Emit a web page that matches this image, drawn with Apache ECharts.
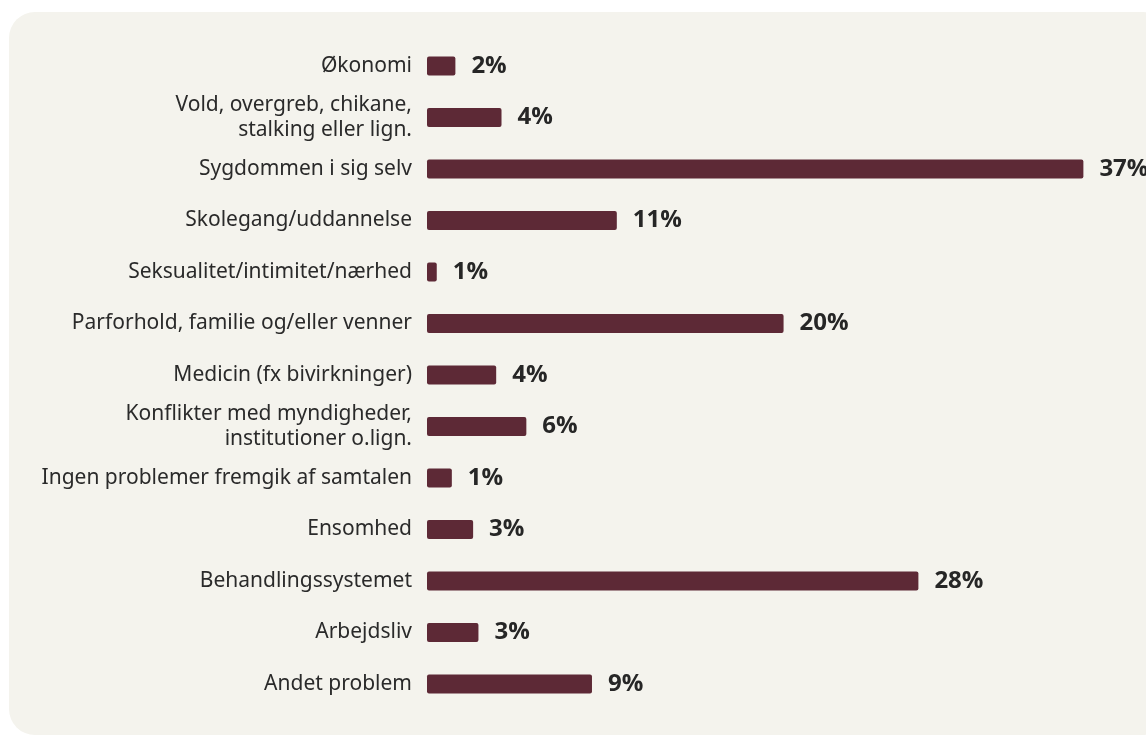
<!DOCTYPE html>
<html>
<head>
<meta charset="utf-8">
<script src="https://cdn.jsdelivr.net/npm/echarts@6/dist/echarts.min.js"></script>
<style>
  html, body { margin: 0; padding: 0; background: #ffffff; }
  #chart { width: 1146px; height: 736px; }
</style>
</head>
<body>
<div id="chart"></div>
<script>
// Problemområder nævnt i samtalerne (andel i procent)
const categories = [
  'Økonomi',
  'Vold, overgreb, chikane,\nstalking eller lign.',
  'Sygdommen i sig selv',
  'Skolegang/uddannelse',
  'Seksualitet/intimitet/nærhed',
  'Parforhold, familie og/eller venner',
  'Medicin (fx bivirkninger)',
  'Konflikter med myndigheder,\ninstitutioner o.lign.',
  'Ingen problemer fremgik af samtalen',
  'Ensomhed',
  'Behandlingssystemet',
  'Arbejdsliv',
  'Andet problem'
];
const shares = [1.6, 4.2, 37.0, 10.7, 0.55, 20.1, 3.9, 5.6, 1.4, 2.6, 27.7, 2.9, 9.3];

const chart = echarts.init(document.getElementById('chart'), null, { renderer: 'canvas' });

chart.setOption({
  backgroundColor: '#ffffff',
  animation: false,
  graphic: [{
    type: 'rect',
    z: -10,
    silent: true,
    shape: { x: 9, y: 12, width: 1160, height: 723, r: 26 },
    style: { fill: '#f4f3ed' }
  }],
  grid: { left: 427, top: 40.25, width: 709.6, height: 669.5, containLabel: false },
  xAxis: {
    type: 'value',
    min: 0,
    max: 40,
    show: false
  },
  yAxis: {
    type: 'category',
    data: categories,
    inverse: true,
    axisLine: { show: false },
    axisTick: { show: false },
    splitLine: { show: false },
    axisLabel: {
      margin: 15,
      color: '#2a2a2a',
      fontFamily: 'Noto Sans',
      fontSize: 21,
      lineHeight: 25,
      align: 'right'
    }
  },
  series: [{
    type: 'bar',
    data: shares,
    barWidth: 19,
    itemStyle: { color: '#5d2936', borderRadius: 2 },
    label: {
      show: true,
      position: 'right',
      distance: 16,
      color: '#262626',
      fontFamily: 'Open Sans',
      fontWeight: 'bold',
      fontSize: 24,
      formatter: p => Math.round(p.value) + '%'
    }
  }]
});
</script>
</body>
</html>
